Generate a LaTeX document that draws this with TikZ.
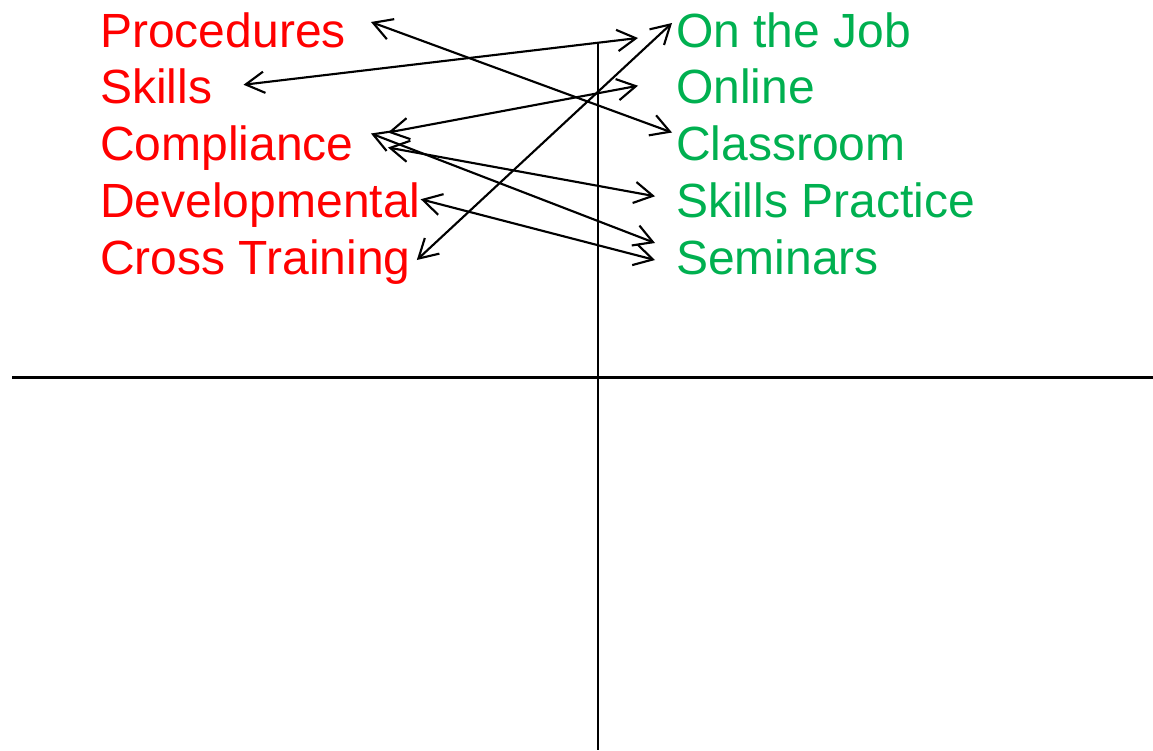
\documentclass[tikz,border=0pt]{standalone}
\usepackage{fontspec}
\setmainfont{Liberation Sans}
\usetikzlibrary{arrows.meta, calc}
\definecolor{needred}{RGB}{255, 0, 0}
\definecolor{waygreen}{RGB}{0, 176, 80}

\begin{document}
\begin{tikzpicture}[x=0.75pt, y=-0.75pt,
    needtxt/.style={anchor=base west, inner sep=0pt, text=needred, font=\fontsize{36pt}{42pt}\selectfont},
    waytxt/.style={anchor=base west, inner sep=0pt, text=waygreen, font=\fontsize{36pt}{42pt}\selectfont},
    link/.style={<->, line width=1.6pt, >={Straight Barb[length=14pt, width=16pt]}}]
\useasboundingbox (0,0) rectangle (1153,750);

% Axes
\draw[line width=2.2pt] (12,377.5) -- (1153,377.5);
\draw[line width=2.2pt] (598,42) -- (598,750);

% Training needs (left column)
\foreach \nm/\txt [count=\i] in {proc/Procedures, skills/Skills, comp/Compliance,
    devel/Developmental, cross/Cross Training} {
    \node[needtxt] (\nm) at (100,{47+56.75*(\i-1)}) {\txt};
}

% Delivery methods (right column)
\foreach \nm/\txt [count=\i] in {job/On the Job, online/Online, class/Classroom,
    practice/Skills Practice, semin/Seminars} {
    \node[waytxt] (\nm) at (676,{47+56.75*(\i-1)}) {\txt};
}

% Links between needs and methods
\draw[link] ($(proc.base east)+(25,-25)$) -- ($(class.base west)+(-4,-28)$);
\draw[link] ($(skills.base east)+(31,-19)$) -- ($(job.base west)+(-38,-9)$);
\draw[link] ($(cross.base east)+(6,-14)$) -- ($(job.base west)+(-4,-24)$);
\draw[link] ($(comp.base east)+(34,-28)$) -- ($(online.base west)+(-38,-18)$);
\draw[link] ($(comp.base east)+(34,-13)$) -- ($(practice.base west)+(-21,-21)$);
\draw[link] ($(comp.base east)+(17,-27)$) -- ($(semin.base west)+(-21,-31)$);
\draw[link] ($(devel.base east)+(0,-18)$) -- ($(semin.base west)+(-21,-14)$);
\end{tikzpicture}
\end{document}
